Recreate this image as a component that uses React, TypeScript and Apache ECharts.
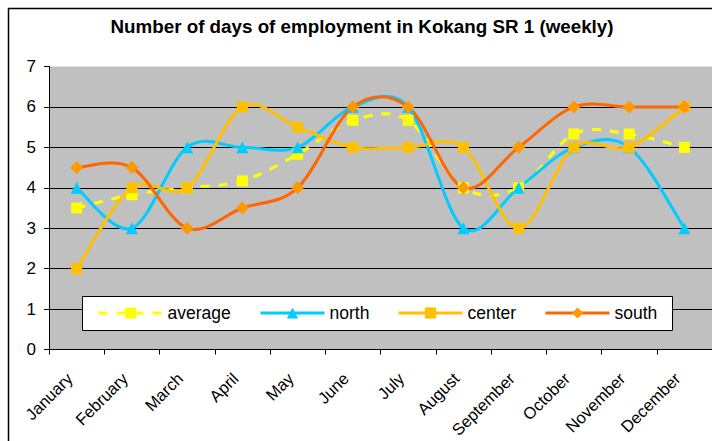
import React, { useEffect, useRef } from "react";
import * as echarts from "echarts";

const months = ["January", "February", "March", "April", "May", "June", "July", "August", "September", "October", "November", "December"];
const average = [3.5, 3.83, 4.0, 4.17, 4.83, 5.67, 5.67, 4.0, 4.0, 5.33, 5.33, 5.0];
const north = [4, 3, 5, 5, 5, 6, 6, 3, 4, 5, 5, 3];
const center = [2, 4, 4, 6, 5.5, 5, 5, 5, 3, 5, 5, 6];
const south = [4.5, 4.5, 3, 3.5, 4, 6, 6, 4, 5, 6, 6, 6];

function smoothPath(pts: number[][]) {
  const n = pts.length;
  let d = `M${pts[0][0]},${pts[0][1]}`;
  for (let i = 0; i < n - 1; i++) {
    const p0 = pts[Math.max(i - 1, 0)];
    const p1 = pts[i];
    const p2 = pts[i + 1];
    const p3 = pts[Math.min(i + 2, n - 1)];
    const c1x = p1[0] + (p2[0] - p0[0]) / 6;
    const c1y = p1[1] + (p2[1] - p0[1]) / 6;
    const c2x = p2[0] - (p3[0] - p1[0]) / 6;
    const c2y = p2[1] - (p3[1] - p1[1]) / 6;
    d += ` C${c1x},${c1y} ${c2x},${c2y} ${p2[0]},${p2[1]}`;
  }
  return d;
}

export default function App() {
  const ref = useRef<HTMLDivElement>(null);
  useEffect(() => {
    const chart = echarts.init(ref.current!, null, { renderer: "svg" });
    const font = "Liberation Sans, Arial, sans-serif";
    const defs = [
      { name: "average", data: average, line: "#FFFF00", item: "#FFFF00", symbol: "rect", size: 11, dash: [9, 9] as any, legendLeft: 97 },
      { name: "north", data: north, line: "#00CCFF", item: "#00CCFF", symbol: "triangle", size: 12, dash: "solid" as any, legendLeft: 259 },
      { name: "center", data: center, line: "#FFC000", item: "#FFC000", symbol: "rect", size: 11, dash: "solid" as any, legendLeft: 397 },
      { name: "south", data: south, line: "#FF6600", item: "#FF9900", symbol: "diamond", size: 13, dash: "solid" as any, legendLeft: 544 },
    ];
    const curves = defs.map((s, k) => ({
      type: "custom",
      name: s.name + "_curve",
      data: s.data.map((v, i) => [i, v]),
      z: 3 + k * 0.1,
      silent: true,
      renderItem: (params: any, api: any) => {
        if (params.dataIndex !== 0) return null;
        const pts = s.data.map((v, i) => api.coord([i, v]));
        return {
          type: "path",
          shape: { pathData: smoothPath(pts) },
          style: {
            fill: "none",
            stroke: s.line,
            lineWidth: 3,
            lineDash: Array.isArray(s.dash) ? s.dash : null,
          },
        };
      },
    }));
    const markers = defs.map((s) => ({
      name: s.name,
      type: "line",
      data: s.data,
      symbol: s.symbol,
      symbolSize: s.size,
      showSymbol: true,
      lineStyle: { width: 0, opacity: 0, color: s.line },
      itemStyle: { color: s.item },
      z: 6,
    }));
    chart.setOption({
      animation: false,
      backgroundColor: "#ffffff",
      textStyle: { fontFamily: font },
      title: {
        text: "Number of days of employment in Kokang SR 1 (weekly)",
        left: 357,
        textAlign: "center",
        top: 12,
        textStyle: { fontFamily: font, fontSize: 18.8, fontWeight: "bold", color: "#000" },
      },
      graphic: [
        { type: "rect", z: 100, silent: true, shape: { x: 8.5, y: 8.5, width: 720, height: 460 }, style: { fill: "none", stroke: "#000", lineWidth: 1.5 } },
        { type: "rect", z: 3, silent: true, shape: { x: 82.5, y: 296.5, width: 590, height: 34 }, style: { fill: "#fff", stroke: "#000", lineWidth: 1 } },
      ],
      legend: defs.map((s) => ({
        left: s.legendLeft,
        top: 304,
        itemWidth: 64,
        itemHeight: 14,
        padding: 0,
        z: 10,
        textStyle: { fontFamily: font, fontSize: 17.5, color: "#000" },
        data: [{ name: s.name, lineStyle: { color: s.line, width: 3, opacity: 1, type: s.dash } }],
      })),
      grid: { left: 49, top: 66.5, width: 664, height: 283, backgroundColor: "#C0C0C0", show: true, borderWidth: 0 },
      xAxis: {
        type: "category",
        data: months,
        boundaryGap: true,
        axisLine: { lineStyle: { color: "#000", width: 1 } },
        axisTick: { show: true, length: 5, lineStyle: { color: "#000" } },
        axisLabel: { rotate: 45, fontSize: 16.5, color: "#000", margin: 19, padding: [0, 10, 0, 0], fontFamily: font, interval: 0 },
        splitLine: { show: false },
      },
      yAxis: {
        type: "value",
        min: 0,
        max: 7,
        interval: 1,
        axisLine: { show: true, lineStyle: { color: "#000", width: 1 } },
        axisTick: { show: true, length: 5, lineStyle: { color: "#000" } },
        axisLabel: { fontSize: 17, color: "#000", margin: 13, fontFamily: font },
        splitLine: { show: true, lineStyle: { color: ["#000", "#000", "#000", "#000", "#000", "#000", "#000", "rgba(0,0,0,0)"], width: 1 } },
      },
      series: [...curves, ...markers],
    });
    return () => chart.dispose();
  }, []);
  return <div ref={ref} style={{ position: "absolute", left: 0, top: 0, width: 712, height: 441 }} />;
}
